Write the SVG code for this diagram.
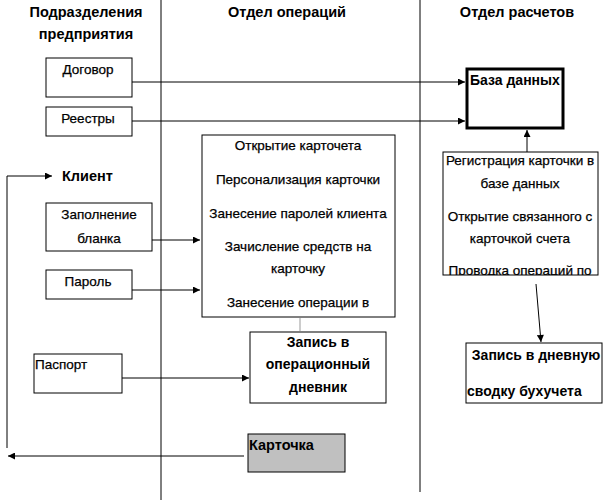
<svg xmlns="http://www.w3.org/2000/svg" width="614" height="502" viewBox="0 0 614 502">
<style>
text{font-family:"Liberation Sans",Arial,sans-serif;font-size:13.5px;fill:#000;stroke:#000;stroke-width:0.25}
.h{font-weight:bold;font-size:14.5px;stroke-width:0}
.b{font-weight:bold;font-size:14px;stroke-width:0}
.c{text-anchor:middle}
.box{fill:#fff;stroke:#000;stroke-width:1}
.ln{fill:none;stroke:#000;stroke-width:1}
</style>
<defs>
<marker id="ah" viewBox="0 0 10 10" refX="10" refY="5" markerWidth="9" markerHeight="7" markerUnits="userSpaceOnUse" orient="auto">
<path d="M0,0 L10,5 L0,10 z" fill="#000"/>
</marker>
</defs>
<rect width="614" height="502" fill="#fff"/>
<g id="lanes">
<line class="ln" x1="161" y1="0" x2="161" y2="500"/>
<line class="ln" x1="420" y1="0" x2="420" y2="492"/>
<text class="h c" x="86" y="17">Подразделения</text>
<text class="h c" x="86" y="39">предприятия</text>
<text class="h c" x="287" y="17">Отдел операций</text>
<text class="h c" x="517" y="17">Отдел расчетов</text>
</g>
<g id="connectors">
<line class="ln" x1="132" y1="82" x2="465" y2="82" marker-end="url(#ah)"/>
<line class="ln" x1="132" y1="121" x2="465" y2="121" marker-end="url(#ah)"/>
<line class="ln" x1="527" y1="152" x2="527" y2="130" marker-end="url(#ah)"/>
<line class="ln" x1="536" y1="284" x2="541" y2="342" marker-end="url(#ah)"/>
<line class="ln" x1="152" y1="240" x2="200" y2="240" marker-end="url(#ah)"/>
<line class="ln" x1="132" y1="290" x2="200" y2="290" marker-end="url(#ah)"/>
<line class="ln" x1="122" y1="378" x2="249" y2="378" marker-end="url(#ah)"/>
<line class="ln" x1="244" y1="456" x2="8" y2="456" marker-end="url(#ah)"/>
<polyline class="ln" points="7,448 7,176 52,176" marker-end="url(#ah)"/>
<line x1="300" y1="318" x2="300" y2="331" stroke="#999" stroke-width="1"/>
</g>
<g id="dogovor">
<rect class="box" x="46" y="58" width="86" height="39"/>
<text class="c" x="88" y="74">Договор</text>
</g>
<g id="reestry">
<rect class="box" x="46" y="107" width="86" height="29"/>
<text class="c" x="88" y="123">Реестры</text>
</g>
<g id="baza">
<rect x="467" y="69" width="96" height="59" fill="#fff" stroke="#000" stroke-width="3"/>
<text class="b" x="470" y="85">База данных</text>
</g>
<g id="klient">
<text class="h" x="62" y="181">Клиент</text>
</g>
<g id="zapolnenie">
<rect class="box" x="46" y="203" width="106" height="48"/>
<text class="c" x="99" y="219">Заполнение</text>
<text class="c" x="99" y="243">бланка</text>
</g>
<g id="parol">
<rect class="box" x="46" y="270" width="86" height="29"/>
<text class="c" x="88" y="286">Пароль</text>
</g>
<g id="operacii">
<rect class="box" x="202" y="135" width="193" height="182"/>
<svg x="202" y="135" width="193" height="182" overflow="hidden">
<text class="c" x="96" y="15">Открытие карточета</text>
<text class="c" x="96" y="49">Персонализация карточки</text>
<text class="c" x="96" y="83">Занесение паролей клиента</text>
<text class="c" x="96" y="116">Зачисление средств на</text>
<text class="c" x="96" y="138">карточку</text>
<text class="c" x="96" y="172">Занесение операции в</text>
<text class="c" x="96" y="194">дневник</text>
</svg>
</g>
<g id="registr">
<rect class="box" x="443" y="152" width="155" height="123"/>
<svg x="443" y="152" width="155" height="123" overflow="hidden">
<text class="c" x="77" y="13">Регистрация карточки в</text>
<text class="c" x="77" y="36">базе данных</text>
<text class="c" x="77" y="69">Открытие связанного с</text>
<text class="c" x="77" y="91">карточкой счета</text>
<text class="c" x="77" y="123">Проводка операций по</text>
</svg>
</g>
<g id="zapis-oper">
<rect class="box" x="250" y="332" width="136" height="71"/>
<text class="b c" x="318" y="347">Запись в</text>
<text class="b c" x="318" y="369">операционный</text>
<text class="b c" x="318" y="392">дневник</text>
</g>
<g id="pasport">
<rect class="box" x="34" y="354" width="88" height="39"/>
<text x="35" y="369">Паспорт</text>
</g>
<g id="zapis-dnev">
<rect class="box" x="466" y="343" width="136" height="60"/>
<text class="b c" x="536" y="360">Запись в дневную</text>
<text class="b" x="467" y="396">сводку бухучета</text>
</g>
<g id="kartochka">
<rect x="248" y="434" width="97" height="38" fill="#c0c0c0" stroke="#000" stroke-width="1"/>
<text class="h" x="249" y="450">Карточка</text>
</g>
</svg>
